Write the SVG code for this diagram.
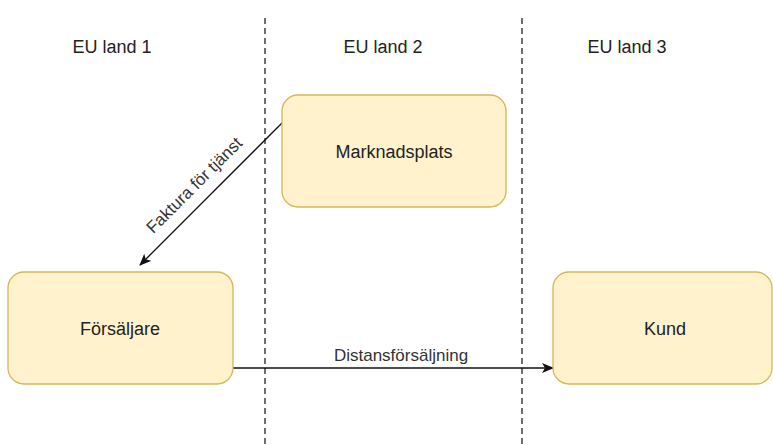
<svg xmlns="http://www.w3.org/2000/svg" width="773" height="445" viewBox="0 0 773 445">
  <style>
    .box { fill: #fff2cc; stroke: #d6b656; stroke-width: 1.3; }
    .lbl { font-family: "Liberation Sans", Arial, sans-serif; font-size: 18px; fill: #222; text-anchor: middle; }
    .elbl { font-family: "Liberation Sans", Arial, sans-serif; font-size: 17px; fill: #333; text-anchor: middle; }
    .lane { stroke: #222; stroke-width: 1.3; stroke-dasharray: 6 4; fill: none; }
    .edge { stroke: #111; stroke-width: 1.3; fill: none; }
  </style>
  <defs>
    <marker id="arrow" viewBox="0 0 12 10" refX="11" refY="5" markerWidth="12" markerHeight="10" markerUnits="userSpaceOnUse" orient="auto">
      <path d="M0,0 L12,5 L0,10 L3,5 Z" fill="#111"/>
    </marker>
  </defs>
  <rect width="773" height="445" fill="#ffffff"/>

  <!-- lane separators -->
  <g id="lanes">
    <line class="lane" x1="265" y1="18" x2="265" y2="445"/>
    <line class="lane" x1="522" y1="18" x2="522" y2="445"/>
  </g>

  <!-- lane titles -->
  <g id="titles">
    <text class="lbl" x="112" y="53">EU land 1</text>
    <text class="lbl" x="383" y="53">EU land 2</text>
    <text class="lbl" x="627" y="53">EU land 3</text>
  </g>

  <!-- connectors -->
  <g id="connectors">
    <line class="edge" x1="282" y1="123" x2="140" y2="265" marker-end="url(#arrow)"/>
    <text class="elbl" transform="translate(194,185) rotate(-45)" dy="6">Faktura för tjänst</text>
    <line class="edge" x1="233" y1="368" x2="553" y2="368" marker-end="url(#arrow)"/>
    <text class="elbl" x="401" y="361">Distansförsäljning</text>
  </g>

  <g id="marknadsplats">
    <rect class="box" x="282" y="95" width="224" height="112" rx="16"/>
    <text class="lbl" x="394" y="158">Marknadsplats</text>
  </g>

  <g id="forsaljare">
    <rect class="box" x="8" y="272" width="225" height="112" rx="16"/>
    <text class="lbl" x="120" y="335">Försäljare</text>
  </g>

  <g id="kund">
    <rect class="box" x="553" y="272" width="219" height="112" rx="16"/>
    <text class="lbl" x="665" y="335">Kund</text>
  </g>
</svg>
